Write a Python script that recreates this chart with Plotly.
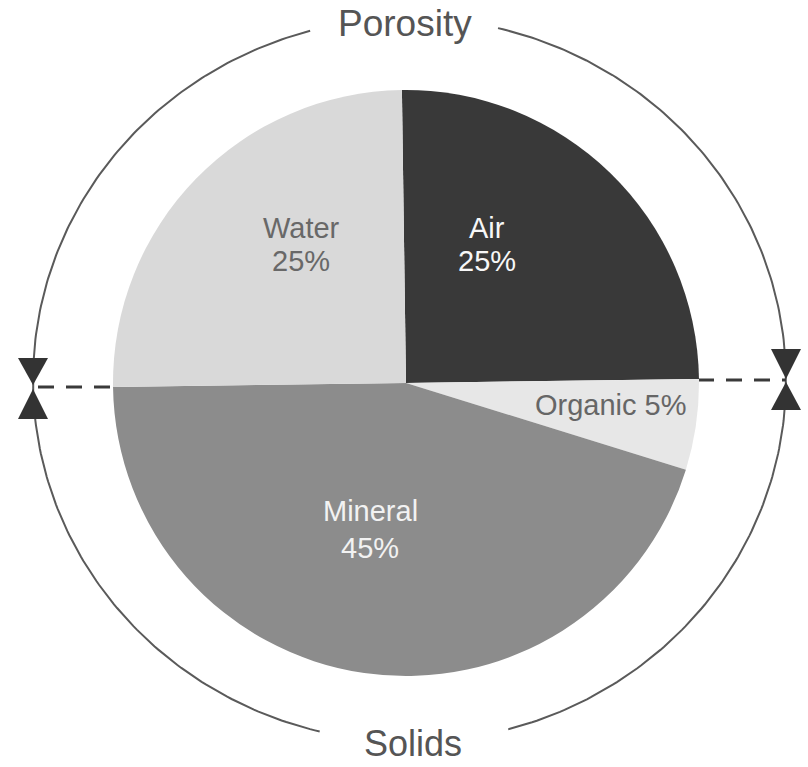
import numpy as np
import plotly.graph_objects as go

# Soil composition by volume
components = ["Air", "Organic", "Mineral", "Water"]
percent = [25, 5, 45, 25]

slice_colors = ["#393939", "#e7e7e7", "#8c8c8c", "#d9d9d9"]
label_colors = ["#f7f7f7", "#666666", "#f2f2f2", "#686868"]
# label centre (x, y) in pixel space and gap between the name and value lines
label_pos = {"Air": (487, 244), "Organic": (611, 405), "Mineral": (370, 529), "Water": (301, 244)}
line_gap = {"Air": 33, "Organic": 0, "Mineral": 37, "Water": 33}

W, H = 808, 767
FONT = "Liberation Sans, Arial, sans-serif"

fig = go.Figure()

# pie centred at (406, 383) px with radius 293 px
cx, cy, r = 406, 383, 293
fig.add_trace(go.Pie(
    labels=components, values=percent, sort=False, direction="clockwise",
    rotation=-0.8, textinfo="none", hoverinfo="label+percent",
    marker=dict(colors=slice_colors, line=dict(width=0)),
    domain=dict(x=[(cx - r) / W, (cx + r) / W], y=[(H - cy - r) / H, (H - cy + r) / H]),
    showlegend=False,
))

# outer bracket arcs (ellipse), split by the Porosity / Solids captions
ex, ey, rx, ry = 409.5, 380, 376.5, 362
for a0, a1 in [(-74.8, 76.4), (105.3, 256.2)]:
    t = np.radians(np.linspace(a0, a1, 200))
    fig.add_trace(go.Scatter(
        x=ex + rx * np.cos(t), y=ey - ry * np.sin(t), mode="lines",
        line=dict(color="#5a5a5a", width=2), hoverinfo="skip", showlegend=False,
    ))

# dashed divider between pore space and solids
fig.add_trace(go.Scatter(x=[38, 112], y=[387, 387], mode="lines",
                         line=dict(color="#3a3a3a", width=3, dash="16px,12px"),
                         hoverinfo="skip", showlegend=False))
fig.add_trace(go.Scatter(x=[698, 786], y=[380, 380], mode="lines",
                         line=dict(color="#3a3a3a", width=3, dash="16px,12px"),
                         hoverinfo="skip", showlegend=False))

# hourglass arrow heads on both sides
def tri(pts):
    return "M " + " L ".join(f"{x},{y}" for x, y in pts) + " Z"

shapes = []
for (ax, top, mid_up, mid_dn, bot) in [(33, 358, 385, 389, 419), (786, 349, 379, 382, 410)]:
    for pts in ([(ax - 15, top), (ax + 15, top), (ax, mid_up)],
                [(ax, mid_dn), (ax - 15, bot), (ax + 15, bot)]):
        shapes.append(dict(type="path", xref="x", yref="y", path=tri(pts),
                           fillcolor="#333333", line=dict(width=0)))

annotations = [
    dict(x=405, y=23, text="Porosity", showarrow=False, xref="x", yref="y",
         font=dict(family=FONT, size=37, color="#555555")),
    dict(x=413, y=766, yanchor="bottom", text="Solids", showarrow=False,
         xref="x", yref="y", font=dict(family=FONT, size=36, color="#555555")),
]
for name, val, col in zip(components, percent, label_colors):
    x, y = label_pos[name]
    gap = line_gap[name]
    font = dict(family=FONT, size=29, color=col)
    if gap == 0:
        annotations.append(dict(x=x, y=y, text=f"{name} {val}%", showarrow=False,
                                xref="x", yref="y", font=font))
    else:
        annotations.append(dict(x=x, y=y - gap / 2, text=name, showarrow=False,
                                xref="x", yref="y", font=font))
        annotations.append(dict(x=x, y=y + gap / 2, text=f"{val}%", showarrow=False,
                                xref="x", yref="y", font=font))

fig.update_layout(
    width=W, height=H, margin=dict(l=0, r=0, t=0, b=0),
    paper_bgcolor="white", plot_bgcolor="rgba(0,0,0,0)",
    xaxis=dict(range=[0, W], visible=False, fixedrange=True, domain=[0, 1]),
    yaxis=dict(range=[H, 0], visible=False, fixedrange=True, domain=[0, 1]),
    shapes=shapes, annotations=annotations,
)

fig.write_html("out.html")
